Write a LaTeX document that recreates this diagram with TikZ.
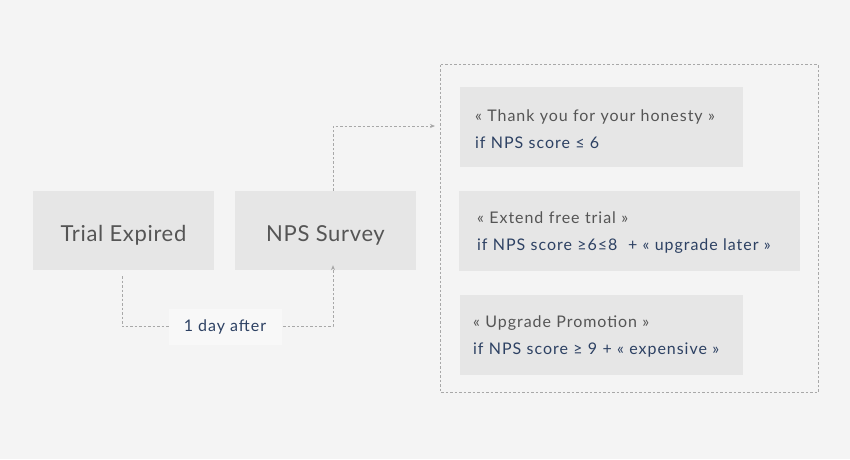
\documentclass[tikz,border=0pt]{standalone}
\usepackage{fontspec}
\setmainfont{Lato}
\usetikzlibrary{arrows.meta}
\definecolor{bgc}{HTML}{F4F4F4}
\definecolor{boxc}{HTML}{E6E6E6}
\definecolor{greytxt}{HTML}{555555}
\definecolor{bluetxt}{HTML}{2D4163}
\definecolor{linec}{HTML}{A8A8A8}
\definecolor{lblc}{HTML}{F8F8F8}
\newcommand{\dropstrut}{\rule{0pt}{15.7pt}}
\tikzset{
  mainbox/.style={fill=boxc, minimum width=181pt, minimum height=79pt, inner sep=0pt,
    text height=21pt, text depth=0pt,
    text=greytxt, font=\fontsize{22}{26}\selectfont\addfontfeatures{LetterSpace=3}},
  rulebox/.style={fill=boxc, minimum height=80pt, inner xsep=15pt, inner ysep=0pt,
    align=left, anchor=west, font=\fontsize{16}{27}\selectfont\addfontfeatures{LetterSpace=6}, text=greytxt},
  conn/.style={draw=linec, line width=0.8pt, dash pattern=on 2.5pt off 2pt},
  tip/.style={-{Stealth[length=5pt,width=4pt]}},
  lbl/.style={fill=lblc, text=bluetxt, font=\fontsize{16}{18}\selectfont\addfontfeatures{LetterSpace=6},
    minimum width=113pt, minimum height=36pt, inner sep=0pt}
}
\begin{document}
\begin{tikzpicture}[x=1pt,y=-1pt]
\fill[bgc] (0,0) rectangle (850,459);
\useasboundingbox (0,0) rectangle (850,459);
% container
\draw[conn] (440.5,64.5) rectangle (818,392.5);
% main boxes
\node[mainbox] (trial) at (123.5,230.5) {Trial Expired};
\node[mainbox] (nps) at (325.5,230.5) {NPS Survey};
% rule boxes
\node[rulebox, text width=253pt] (r1) at (460,127) {\dropstrut« Thank you for your honesty »\\\textcolor{bluetxt}{if NPS score ≤ 6}};
\node[rulebox, inner xsep=18pt, text width=305pt] (r2) at (459,230.5) {\dropstrut« Extend free trial »\\\textcolor{bluetxt}{if NPS score ≥6≤8~ + « upgrade later »}};
\node[rulebox, inner xsep=13pt, text width=257pt] (r3) at (460,334.5) {\dropstrut« Upgrade Promotion »\\\textcolor{bluetxt}{if NPS score ≥ 9 + « expensive »}};
% connectors
\coordinate (c1) at (122,326.5);
\coordinate (c2) at (333,326.5);
\coordinate (in1) at (435,126);
\draw[conn, tip] (trial.south -| c1) ++(0,6) -- (c1) -- (c2) -- ([yshift=5pt]nps.south -| c2);
\node[lbl] (day) at (225,326.5) {1 day after};
\draw[conn, tip] (nps.north -| c2) -- (c2 |- in1) -- (in1);
\end{tikzpicture}
\end{document}
